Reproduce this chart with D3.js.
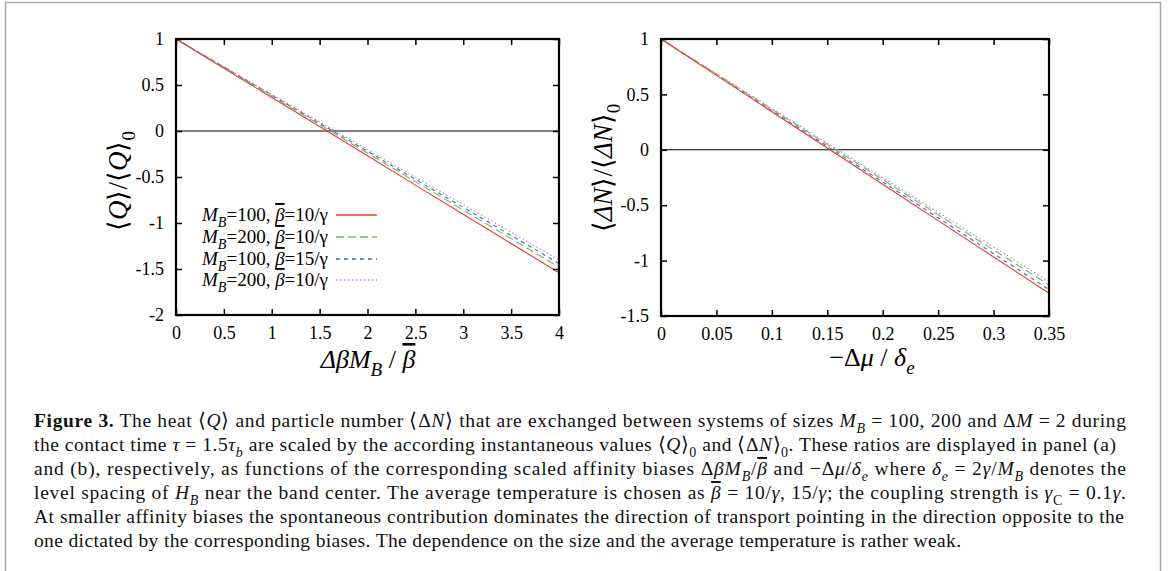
<!DOCTYPE html>
<html>
<head>
<meta charset="utf-8">
<script src="https://cdn.jsdelivr.net/npm/d3@7"></script>
<style>
  body { margin: 0; background: #fff; }
  svg { display: block; font-family: "Liberation Serif", "Times New Roman", serif; }
</style>
</head>
<body>
<script>
var width = 1168, height = 571;

// panel (a): <Q>/<Q>_0 vs Δβ M_B / β̄
var xQ = [0, 0.5, 1, 1.5, 2, 2.5, 3, 3.5, 4];
var qRed   = [1, 0.683, 0.365, 0.048, -0.27, -0.588, -0.905, -1.223, -1.54];
var qGreen = [1, 0.69, 0.38, 0.07, -0.24, -0.55, -0.86, -1.17, -1.48];
var qBlue  = [1, 0.695, 0.39, 0.085, -0.22, -0.525, -0.83, -1.135, -1.44];
var qPink  = [1, 0.70, 0.40, 0.10, -0.20, -0.50, -0.80, -1.10, -1.40];

// panel (b): <ΔN>/<ΔN>_0 vs -Δμ/δ_e
var xN = [0, 0.05, 0.1, 0.15, 0.2, 0.25, 0.3, 0.35];
var nRed   = [1, 0.672, 0.344, 0.016, -0.311, -0.639, -0.967, -1.295];
var nGreen = [1, 0.683, 0.366, 0.049, -0.269, -0.586, -0.903, -1.22];
var nBlue  = [1, 0.677, 0.354, 0.031, -0.291, -0.614, -0.937, -1.26];
var nPink  = [1, 0.687, 0.374, 0.061, -0.251, -0.564, -0.877, -1.19];

var xTicksQ = [0, 0.5, 1, 1.5, 2, 2.5, 3, 3.5, 4];
var yTicksQ = [1, 0.5, 0, -0.5, -1, -1.5, -2];
var xTicksN = [0, 0.05, 0.1, 0.15, 0.2, 0.25, 0.3, 0.35];
var yTicksN = [1, 0.5, 0, -0.5, -1, -1.5];

// legend entries: M_B and beta-bar numerator
var legendM = ["100", "200", "100", "200"];
var legendBeta = ["10", "10", "15", "10"];
var colors = ["#ee3b36", "#6cc044", "#3b66cc", "#c47ad8"];
var dashes = [null, "8,4", "4,4", "1.5,2.5"];

var svg = d3.select("body").append("svg")
    .attr("width", width)
    .attr("height", height);

// grey outer frame of the figure
svg.append("rect")
    .attr("x", 5.5).attr("y", 2.5)
    .attr("width", 1155).attr("height", 600)
    .attr("fill", "none").attr("stroke", "#a8a8a8").attr("stroke-width", 1.5);

// rich text: parts = [[text, flags]], flags: i italic, b bold, s subscript, o overline
function rich(sel, parts, fs) {
  var shift = 0;
  parts.forEach(function(p) {
    var f = p[1] || "";
    var t = sel.append("tspan").text(p[0]);
    if (f.indexOf("i") >= 0) t.attr("font-style", "italic");
    if (f.indexOf("b") >= 0) t.attr("font-weight", "bold");
    if (f.indexOf("o") >= 0) t.style("text-decoration", "overline");
    var sub = f.indexOf("s") >= 0;
    var want = sub ? Math.round(fs * 0.3) : 0;
    if (want !== shift) t.attr("dy", want - shift);
    if (sub) t.attr("font-size", Math.round(fs * 0.72));
    shift = want;
  });
  return sel;
}

function panel(opt) {
  var g = svg.append("g");
  var x = d3.scaleLinear().domain(opt.xDomain).range([opt.left, opt.right]);
  var y = d3.scaleLinear().domain(opt.yDomain).range([opt.bottom, opt.top]);

  // zero line
  g.append("line")
      .attr("x1", x(opt.xDomain[0])).attr("x2", x(opt.xDomain[1]))
      .attr("y1", y(0)).attr("y2", y(0))
      .attr("stroke", "#000").attr("stroke-width", 1.1);

  var line = d3.line().x((d) => x(d[0])).y((d) => y(d[1]));
  // pink first so red ends on top
  [3, 2, 1, 0].forEach(function(i) {
    var pts = opt.xs.map((v, k) => [v, opt.series[i][k]]);
    g.append("path")
        .attr("d", line(pts))
        .attr("fill", "none")
        .attr("stroke", colors[i])
        .attr("stroke-width", 1.1)
        .attr("stroke-dasharray", dashes[i]);
  });

  // ticks on all four sides, pointing inward
  var fmt = (d) => String(d);
  var axes = [
    g.append("g").attr("transform", "translate(0," + opt.bottom + ")")
      .call(d3.axisBottom(x).tickValues(opt.xTicks).tickFormat(fmt).tickSizeInner(-6).tickSizeOuter(0).tickPadding(11)),
    g.append("g").attr("transform", "translate(0," + opt.top + ")")
      .call(d3.axisTop(x).tickValues(opt.xTicks).tickFormat("").tickSizeInner(-6).tickSizeOuter(0)),
    g.append("g").attr("transform", "translate(" + opt.left + ",0)")
      .call(d3.axisLeft(y).tickValues(opt.yTicks).tickFormat(fmt).tickSizeInner(-6).tickSizeOuter(0).tickPadding(12)),
    g.append("g").attr("transform", "translate(" + opt.right + ",0)")
      .call(d3.axisRight(y).tickValues(opt.yTicks).tickFormat("").tickSizeInner(-6).tickSizeOuter(0))
  ];
  axes.forEach(function(a) {
    a.select(".domain").remove();
    a.selectAll("line").attr("stroke", "#000").attr("stroke-width", 1.5);
    a.selectAll("text").attr("font-family", "Liberation Serif").attr("font-size", 18).attr("fill", "#000");
  });

  // frame
  g.append("rect")
      .attr("x", opt.left).attr("y", opt.top)
      .attr("width", opt.right - opt.left).attr("height", opt.bottom - opt.top)
      .attr("fill", "none").attr("stroke", "#000").attr("stroke-width", 2.2);

  return {x: x, y: y, g: g};
}

panel({
  left: 176, right: 559, top: 39, bottom: 315,
  xDomain: [0, 4], yDomain: [-2, 1],
  xs: xQ, series: [qRed, qGreen, qBlue, qPink],
  xTicks: xTicksQ, yTicks: yTicksQ
});

panel({
  left: 661, right: 1049, top: 39, bottom: 316,
  xDomain: [0, 0.35], yDomain: [-1.5, 1],
  xs: xN, series: [nRed, nGreen, nBlue, nPink],
  xTicks: xTicksN, yTicks: yTicksN
});

// axis titles
rich(svg.append("text")
    .attr("transform", "translate(127,181) rotate(-90)")
    .attr("text-anchor", "middle").attr("font-size", 27),
  [["⟨"], ["Q", "i"], ["⟩/⟨"], ["Q", "i"], ["⟩"], ["0", "s"]], 27);

rich(svg.append("text")
    .attr("x", 368).attr("y", 368)
    .attr("text-anchor", "middle").attr("font-size", 26),
  [["Δβ", "i"], ["M", "i"], ["B", "is"], [" / "], ["β", "io"]], 26);

rich(svg.append("text")
    .attr("transform", "translate(612,168) rotate(-90)")
    .attr("text-anchor", "middle").attr("font-size", 27),
  [["⟨"], ["ΔN", "i"], ["⟩/⟨"], ["ΔN", "i"], ["⟩"], ["0", "s"]], 27);

rich(svg.append("text")
    .attr("x", 872).attr("y", 366)
    .attr("text-anchor", "middle").attr("font-size", 26),
  [["−Δ"], ["μ", "i"], [" / "], ["δ", "i"], ["e", "is"]], 26);

// legend in panel (a)
var legendY = [215, 237, 259, 280];
legendM.forEach(function(m, i) {
  rich(svg.append("text")
      .attr("x", 328).attr("y", legendY[i] + 6)
      .attr("text-anchor", "end").attr("font-size", 19),
    [["M", "i"], ["B", "is"], ["=" + m + ", "], ["β", "io"], ["=" + legendBeta[i] + "/γ"]], 19);
  svg.append("line")
      .attr("x1", 336).attr("x2", 377)
      .attr("y1", legendY[i]).attr("y2", legendY[i])
      .attr("stroke", colors[i]).attr("stroke-width", 1.3)
      .attr("stroke-dasharray", dashes[i]);
});

// caption
var capLines = [
  [["Figure 3.", "b"], [" The heat ⟨"], ["Q", "i"], ["⟩ and particle number ⟨Δ"], ["N", "i"], ["⟩ that are exchanged between systems of sizes "], ["M", "i"], ["B", "is"], [" = 100, 200 and Δ"], ["M", "i"], [" = 2 during"]],
  [["the contact time "], ["τ", "i"], [" = 1.5"], ["τ", "i"], ["b", "is"], [" are scaled by the according instantaneous values ⟨"], ["Q", "i"], ["⟩"], ["0", "s"], [" and ⟨Δ"], ["N", "i"], ["⟩"], ["0", "s"], [". These ratios are displayed in panel (a)"]],
  [["and (b), respectively, as functions of the corresponding scaled affinity biases Δ"], ["β", "i"], ["M", "i"], ["B", "is"], ["/"], ["β", "io"], [" and −Δ"], ["μ", "i"], ["/"], ["δ", "i"], ["e", "is"], [" where "], ["δ", "i"], ["e", "is"], [" = 2"], ["γ", "i"], ["/"], ["M", "i"], ["B", "is"], [" denotes the"]],
  [["level spacing of "], ["H", "i"], ["B", "is"], [" near the band center. The average temperature is chosen as "], ["β", "io"], [" = 10/"], ["γ", "i"], [",  15/"], ["γ", "i"], ["; the coupling strength is "], ["γ", "i"], ["C", "s"], [" = 0.1"], ["γ", "i"], ["."]],
  [["At smaller affinity biases the spontaneous contribution dominates the direction of transport pointing in the direction opposite to the"]],
  [["one dictated by the corresponding biases. The dependence on the size and the average temperature is rather weak."]]
];
var capBase = [427, 451, 475, 499, 523, 547];
var capWidth = [1092, 1082, 1092, 1092, 1090, 927];
capLines.forEach(function(parts, i) {
  rich(svg.append("text")
      .attr("x", 34).attr("y", capBase[i])
      .attr("font-size", 19.5)
      .attr("textLength", capWidth[i])
      .attr("lengthAdjust", "spacing")
      .attr("fill", "#111"),
    parts, 19.5);
});
</script>
</body>
</html>
